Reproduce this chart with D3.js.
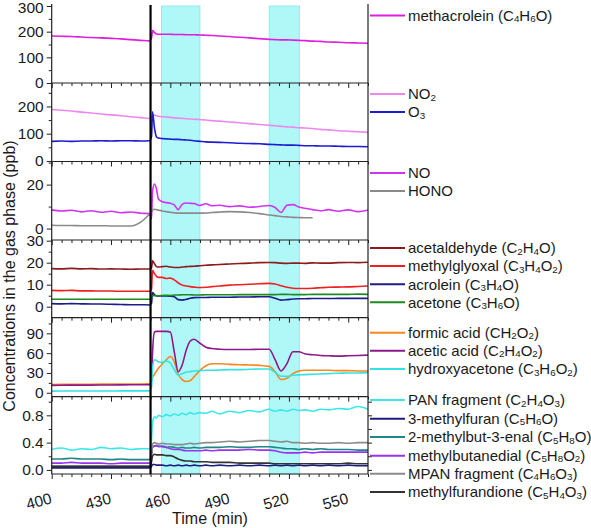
<!DOCTYPE html>
<html><head><meta charset="utf-8">
<script src="https://cdn.jsdelivr.net/npm/d3@7"></script>
<style>
body{margin:0;background:#fff}
svg{display:block}
text{font-family:"Liberation Sans",Arial,sans-serif;fill:#1a1a1a}
</style>
</head><body>
<svg id="c" width="591" height="528"></svg>
<script>
// ---------------- DATA ----------------
const times = [400,405,410,415,420,425,430,435,440,445,449.5,450.5,451,452,453,454,456,458,460,462,464,466,468,470,472,475,478,481,485,490,495,500,505,510,513,516,519,522,525,528,532,536,540,545,550,555,560];

const methacrolein = [183,182,181,179,177,176,174,172,169,166,164,175,204,196,191,190,190,190,190,189,189,189,188,188,188,187,186,185,183,181,178,176,173,170,169,168,168,167,166,165,163,162,160,159,157,156,155];

const no2 = [189,186,183,179,176,172,169,166,162,159,156,158,165,168,166,164,162,161,160,158,157,156,155,154,153,152,150,148,146,143,140,137,134,131,129,127,125,124,122,121,119,116,114,111,109,107,105];
const o3 = [72,73,72,73,73,74,73,74,74,73,74,90,180,120,88,84,82,81,80,79,79,78,77,76,74,72,70,69,68,67,65,64,63,61,60,59,58,58,57,56,56,55,55,54,53,53,52];

const no = [8.5,8.0,8.3,7.6,8.1,7.4,7.9,7.2,7.5,7.0,6.8,4.3,17.0,20.3,18.0,13.4,12.2,11.8,11.5,10.8,8.6,11.0,11.6,11.5,11.4,10.5,11.3,10.4,10.6,10.0,10.3,9.7,10.0,10.5,9.6,7.3,10.6,10.9,9.8,9.2,8.6,8.1,8.6,7.9,8.5,7.7,8.4];
const hono = [1.5,1.4,1.4,1.3,1.3,1.3,1.2,1.2,1.2,2.9,6.6,7.6,8.4,8.8,8.6,8.4,8.0,7.7,7.4,7.2,7.0,7.0,7.0,7.0,7.0,7.0,7.1,7.3,7.5,7.7,7.6,7.3,6.8,6.2,5.9,5.5,5.3,5.1,5.0,4.9,4.9,null,null,null,null,null,null];

const acetaldehyde = [17.3,17.2,17.4,17.2,17.3,17.1,17.2,17.1,17.0,17.1,17.1,17.5,20.8,19.5,18.2,18.0,18.2,18.4,18.0,17.8,17.8,18.0,18.2,18.3,18.4,18.6,18.8,19.0,19.2,19.4,19.6,19.8,20.0,20.1,20.0,19.8,19.7,19.8,19.8,19.7,19.9,19.8,19.8,20.0,20.1,20.0,20.2];
const methylglyoxal = [7.4,7.3,7.4,7.2,7.2,7.1,7.1,7.0,7.0,7.0,7.0,8.0,16.5,15.0,13.8,13.3,13.3,12.8,13.0,12.2,10.8,9.8,9.4,9.1,8.9,8.7,8.8,9.1,9.4,9.8,10.0,10.2,10.4,10.6,10.3,9.5,8.8,8.4,8.3,8.3,8.4,8.6,8.8,8.9,9.0,9.2,9.4];
const acrolein = [1.4,1.3,1.4,1.3,1.2,1.2,1.1,1.0,0.9,0.9,0.8,1.5,6.4,5.5,4.9,4.9,4.9,4.9,4.8,4.5,3.2,3.0,3.3,3.8,4.1,4.2,4.2,4.3,4.3,4.3,4.4,4.4,4.5,4.5,3.8,3.0,3.2,3.5,3.6,3.6,3.7,3.7,3.7,3.8,3.8,3.8,3.8];
const acetone = [3.4,3.4,3.4,3.4,3.4,3.4,3.4,3.4,3.4,3.4,3.4,4.0,5.0,5.0,5.0,5.0,5.1,5.2,5.1,5.3,5.3,5.4,5.4,5.4,5.3,5.3,5.4,5.4,5.4,5.4,5.5,5.5,5.5,5.5,5.5,5.6,5.6,5.5,5.5,5.5,5.6,5.6,5.6,5.6,5.6,5.7,5.6];

const formicAcid = [12.5,12.6,12.7,12.8,12.9,13.0,13.0,13.1,13.2,13.3,13.4,18,23,28,33,37,44,50,55,47,28,20,17,18,24,34,41,44,44,43,42.5,42,41.5,40,32,20,22,29,33,34,34,34,34,33.5,33.5,33,33];
const aceticAcid = [11.2,11.4,11.5,11.6,11.6,11.7,11.8,11.9,12.0,12.1,12.2,20,60,92,93,93,93,93,92,62,32,42,64,78,81,75,69,67,66,65.5,65.5,65.5,66,66,50,33,44,62,62,59,57.5,56.5,56,55.5,56,56.5,57];
const hydroxyacetone = [2.5,2.6,2.6,2.6,2.7,2.7,2.7,2.8,2.8,2.8,2.9,8,38,50,49,47,46,48,45,35,27,29,31,32,33,33.5,34,34,34.5,35,35,35.5,36,36,31,25,25,26.5,27,27.5,28,28.5,29,29.5,30,30,30.5];

const panFragment = [0.30,0.32,0.29,0.31,0.30,0.33,0.31,0.32,0.30,0.31,0.31,0.45,0.70,0.78,0.76,0.80,0.78,0.81,0.79,0.82,0.80,0.83,0.81,0.84,0.82,0.84,0.83,0.86,0.82,0.86,0.84,0.87,0.85,0.89,0.86,0.88,0.86,0.89,0.87,0.88,0.86,0.89,0.88,0.90,0.89,0.93,0.89];
const methylfuran = [0.03,0.03,0.03,0.03,0.03,0.03,0.03,0.03,0.03,0.03,0.03,0.05,0.08,0.08,0.07,0.07,0.07,0.06,0.07,0.06,0.07,0.06,0.07,0.06,0.07,0.06,0.07,0.06,0.07,0.06,0.07,0.06,0.07,0.06,0.07,0.06,0.07,0.06,0.07,0.06,0.07,0.06,0.07,0.06,0.07,0.06,0.06];
const methylbutenal = [0.16,0.16,0.17,0.16,0.16,0.16,0.15,0.16,0.15,0.15,0.15,0.25,0.33,0.35,0.36,0.35,0.34,0.33,0.34,0.33,0.32,0.33,0.32,0.32,0.33,0.32,0.33,0.33,0.33,0.34,0.33,0.33,0.34,0.34,0.33,0.32,0.31,0.31,0.30,0.31,0.30,0.31,0.30,0.30,0.30,0.29,0.29];
const methylbutanedial = [0.10,0.10,0.11,0.10,0.10,0.10,0.09,0.10,0.10,0.10,0.10,0.20,0.33,0.35,0.35,0.34,0.35,0.33,0.31,0.30,0.30,0.29,0.28,0.28,0.28,0.28,0.29,0.28,0.29,0.29,0.29,0.30,0.29,0.29,0.28,0.26,0.25,0.25,0.25,0.26,0.25,0.26,0.26,0.26,0.26,0.26,0.26];
const mpanFragment = [0.06,0.06,0.06,0.06,0.06,0.06,0.06,0.06,0.06,0.06,0.06,0.20,0.38,0.40,0.39,0.38,0.39,0.38,0.38,0.37,0.37,0.37,0.38,0.39,0.38,0.39,0.40,0.40,0.41,0.42,0.41,0.42,0.43,0.43,0.42,0.41,0.42,0.40,0.40,0.39,0.40,0.39,0.39,0.40,0.39,0.40,0.40];
const methylfurandione = [0.05,0.05,0.05,0.05,0.05,0.05,0.05,0.05,0.05,0.05,0.05,0.12,0.20,0.23,0.22,0.22,0.22,0.21,0.21,0.19,0.16,0.14,0.13,0.13,0.12,0.12,0.12,0.11,0.11,0.11,0.10,0.10,0.10,0.10,0.09,0.09,0.09,0.09,0.09,0.09,0.09,0.09,0.09,0.09,0.10,0.09,0.09];

const xTicks = [400,430,460,490,520,550];
const yTicks1 = [0,100,200,300], yMinor1 = [50,150,250];
const yTicks2 = [0,100,200],     yMinor2 = [50,150,250];
const yTicks3 = [0,20],          yMinor3 = [10,30];
const yTicks4 = [0,10,20,30],    yMinor4 = [5,15,25];
const yTicks5 = [0,30,60,90],    yMinor5 = [15,45,75,105];
const yTicks6 = [0,0.4,0.8],     yMinor6 = [0.2,0.6,1.0];
const bands = [[455.5,475],[510,525.3]];
const injection = 450;

// ---------------- LAYOUT ----------------
const L = 51.7, R = 368;
const x = d3.scaleLinear().domain([400,560]).range([L,R]);
const svg = d3.select("#c");

const panels = [
  {top:6, bottom:83, domain:[0,300], major:yTicks1, minor:yMinor1, fmt:d3.format("d"),
   series:[{label:"methacrolein (C4H6O)", color:"#e01ee0", v:methacrolein, ly:15.5}]},
  {top:83, bottom:161.5, domain:[-2,286], major:yTicks2, minor:yMinor2, fmt:d3.format("d"),
   series:[{label:"NO2", color:"#ee88ee", v:no2, ly:94},
           {label:"O3", color:"#1c1cd0", v:o3, ly:112}]},
  {top:161.5, bottom:240, domain:[-5.2,30.5], major:yTicks3, minor:yMinor3, fmt:d3.format("d"),
   series:[{label:"NO", color:"#d034ee", v:no, ly:173},
           {label:"HONO", color:"#8a8a8a", v:hono, ly:191}]},
  {top:240, bottom:317.7, domain:[-5,30.3], major:yTicks4, minor:yMinor4, fmt:d3.format("d"),
   series:[{label:"acetaldehyde (C2H4O)", color:"#8b1c1c", v:acetaldehyde, ly:248},
           {label:"methylglyoxal (C3H4O2)", color:"#ee2020", v:methylglyoxal, ly:266},
           {label:"acrolein (C3H4O)", color:"#1c1c8c", v:acrolein, ly:284.3},
           {label:"acetone (C3H6O)", color:"#1f8a1f", v:acetone, ly:302.3}]},
  {top:317.7, bottom:396.7, domain:[-6,113.7], major:yTicks5, minor:yMinor5, fmt:d3.format("d"),
   series:[{label:"formic acid (CH2O2)", color:"#f5891f", v:formicAcid, ly:332.7},
           {label:"acetic acid (C2H4O2)", color:"#8e1a8a", v:aceticAcid, ly:350.7},
           {label:"hydroxyacetone (C3H6O2)", color:"#33e3e3", v:hydroxyacetone, ly:369}]},
  {top:396.7, bottom:474, domain:[-0.06,1.073], major:yTicks6, minor:yMinor6, fmt:d3.format(".1f"),
   series:[{label:"PAN fragment (C2H4O3)", color:"#3ae8ea", v:panFragment, ly:400},
           {label:"3-methylfuran (C5H6O)", color:"#1c1c80", v:methylfuran, ly:418.7},
           {label:"2-methylbut-3-enal (C5H8O)", color:"#1f8585", v:methylbutenal, ly:437},
           {label:"methylbutanedial (C5H8O2)", color:"#9a33ee", v:methylbutanedial, ly:455.7},
           {label:"MPAN fragment (C4H6O3)", color:"#8a8a8a", v:mpanFragment, ly:473.7},
           {label:"methylfurandione (C5H4O3)", color:"#333333", v:methylfurandione, ly:492}]}
];

// bands
const gB = svg.append("g");
bands.forEach(b => {
  gB.append("rect").attr("x", x(b[0])).attr("y", 6).attr("width", x(b[1]) - x(b[0])).attr("height", 474 - 6)
    .attr("fill", "#b0f7f7").attr("stroke", "#86e8ea").attr("stroke-width", 0.8);
});

// series
const gS = svg.append("g");
panels.forEach(p => {
  p.y = d3.scaleLinear().domain(p.domain).range([p.bottom, p.top]);
  const line = d3.line().defined(d => d[1] != null).x(d => x(d[0])).y(d => p.y(d[1])).curve(d3.curveMonotoneX);
  p.series.forEach(s => {
    gS.append("path").datum(times.map((t,i) => [t, s.v[i]]))
      .attr("d", line).attr("fill", "none").attr("stroke", s.color).attr("stroke-width", 1.6)
      .attr("stroke-linejoin", "round");
  });
});

// axes
const gA = svg.append("g").attr("font-size", 15);
function styleAxis(g) {
  g.select(".domain").remove();
  g.selectAll(".tick line").attr("stroke", "#222").attr("stroke-width", 1);
  g.selectAll(".tick text").attr("fill", "#1a1a1a").attr("font-family", '"Liberation Sans",Arial,sans-serif');
}
panels.forEach((p, i) => {
  const ga = gA.append("g").attr("transform", `translate(${L},0)`)
    .call(d3.axisLeft(p.y).tickValues(p.major).tickSize(5).tickPadding(3).tickFormat(p.fmt));
  styleAxis(ga);
  ga.selectAll(".tick text").attr("font-size", 15.5);
  if (i === 0) ga.selectAll(".tick text").filter(d => d === 300).attr("dy", "0.4em");
  const gm = gA.append("g").attr("transform", `translate(${L},0)`)
    .call(d3.axisLeft(p.y).tickValues(p.minor).tickSize(3).tickFormat(""));
  styleAxis(gm);
  if (i === panels.length - 1) {
    const gr = gA.append("g").attr("transform", `translate(${R},0)`)
      .call(d3.axisRight(p.y).tickValues(p.major.concat(p.minor)).tickSize(4).tickFormat(""));
    styleAxis(gr);
  }
  // horizontal boundary at panel bottom with downward ticks
  const gt = gA.append("g").attr("transform", `translate(0,${p.bottom})`)
    .call(d3.axisBottom(x).tickValues(d3.range(400, 561, 5).filter(v => (v - 400) % 30 !== 0)).tickSize(3).tickFormat(""));
  styleAxis(gt);
  const gT = gA.append("g").attr("transform", `translate(0,${p.bottom})`)
    .call(d3.axisBottom(x).tickValues(xTicks).tickSize(5).tickFormat(""));
  styleAxis(gT);
  gA.append("line").attr("x1", L).attr("x2", R).attr("y1", p.bottom).attr("y2", p.bottom)
    .attr("stroke", "#222").attr("stroke-width", 1.2);
});
// frame verticals
gA.append("line").attr("x1", L).attr("x2", L).attr("y1", 4).attr("y2", 474).attr("stroke", "#222").attr("stroke-width", 1.2);
gA.append("line").attr("x1", R).attr("x2", R).attr("y1", 4).attr("y2", 474).attr("stroke", "#222").attr("stroke-width", 1.2);

// injection line
svg.append("line").attr("x1", x(injection)).attr("x2", x(injection)).attr("y1", 5).attr("y2", 474)
  .attr("stroke", "#000").attr("stroke-width", 2.2);

// x tick labels (rotated)
svg.append("g").selectAll("text").data(xTicks).join("text")
  .attr("transform", d => `translate(${x(d) + 1},${503}) rotate(-15)`)
  .attr("text-anchor", "end").attr("font-size", 15.5).text(d => d);

// axis titles
svg.append("text").attr("x", 210).attr("y", 524).attr("text-anchor", "middle").attr("font-size", 16).text("Time (min)");
svg.append("text").attr("transform", "translate(15,276) rotate(-90)").attr("text-anchor", "middle")
  .attr("font-size", 16).text("Concentrations in the gas phase (ppb)");

// legend
const gL = svg.append("g");
function addLabel(sel, label) {
  const parts = [];
  for (let k = 0; k < label.length; k++) {
    const ch = label[k];
    const sub = /[0-9]/.test(ch) && k > 0 && /[A-Za-z0-9]/.test(label[k - 1]) &&
      (/[A-Za-z]/.test(label[k - 1]) || parts.length && parts[parts.length - 1].sub);
    if (parts.length && parts[parts.length - 1].sub === sub) parts[parts.length - 1].t += ch;
    else parts.push({t: ch, sub});
  }
  let shifted = false;
  parts.forEach(pt => {
    const ts = sel.append("tspan").text(pt.t);
    if (pt.sub) { ts.attr("font-size", 9.8).attr("dy", shifted ? 0 : 1.5); shifted = true; }
    else if (shifted) { ts.attr("dy", -1.5); shifted = false; }
  });
}
panels.forEach(p => p.series.forEach(s => {
  gL.append("line").attr("x1", 370).attr("x2", 405).attr("y1", s.ly).attr("y2", s.ly)
    .attr("stroke", s.color).attr("stroke-width", 2);
  const t = gL.append("text").attr("x", 408).attr("y", s.ly + 5.2).attr("font-size", 15);
  addLabel(t, s.label);
}));
</script>
</body></html>
